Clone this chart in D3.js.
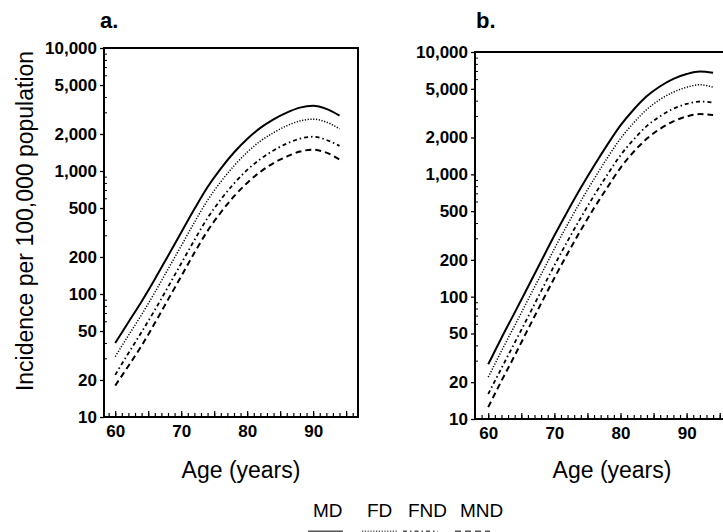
<!DOCTYPE html>
<html>
<head>
<meta charset="utf-8">
<script src="https://cdn.jsdelivr.net/npm/d3@7"></script>
<style>
  body { margin: 0; background: #fff; }
  svg { display: block; font-family: "Liberation Sans", Arial, sans-serif; }
</style>
</head>
<body>
<div id="chart"></div>
<script>
const ages = [60, 62, 64, 66, 68, 70, 72, 74, 76, 78, 80, 82, 84, 86, 88, 90, 92, 94];

// panel a
const aMD = [40, 59, 87, 132, 204, 316, 490, 741, 1047, 1413, 1820, 2240, 2630, 2985, 3275, 3390, 3200, 2820];
const aFD = [31, 46, 68, 103, 159, 246, 382, 578, 817, 1100, 1420, 1750, 2050, 2330, 2550, 2640, 2500, 2200];
const aFND = [22, 33, 49, 74, 114, 177, 274, 415, 586, 790, 1020, 1250, 1470, 1670, 1830, 1900, 1790, 1600];
const aMND = [18, 26, 38, 58, 90, 139, 216, 326, 460, 622, 800, 985, 1160, 1310, 1440, 1490, 1410, 1240];

// panel b
const bMD = [28, 46, 74, 120, 195, 316, 500, 776, 1175, 1740, 2510, 3390, 4365, 5250, 6030, 6600, 6920, 6760];
const bFD = [22, 36, 58, 94, 152, 246, 390, 605, 916, 1360, 1960, 2640, 3400, 4100, 4700, 5150, 5400, 5150];
const bFND = [16, 26, 42, 68, 111, 180, 285, 442, 670, 990, 1430, 1930, 2490, 2990, 3440, 3760, 3940, 3850];
const bMND = [12.5, 20.5, 33, 54, 88, 142, 225, 350, 530, 780, 1130, 1530, 1960, 2360, 2710, 2970, 3110, 3050];

const seriesNames = ["MD", "FD", "FND", "MND"];
const yTicks = [10, 20, 50, 100, 200, 500, 1000, 2000, 5000, 10000];
const xTicks = [60, 70, 80, 90];

// line style per series: solid, dotted, dash-dot, dashed
const styles = {
  MD: { dash: null, w: 2 },
  FD: { dash: "1.2,1.6", w: 1.5 },
  FND: { dash: "4,3,1.5,3", w: 1.8 },
  MND: { dash: "6,4", w: 2 },
};

const W = 723, H = 532;
const svg = d3.select("#chart").append("svg").attr("width", W).attr("height", H);

const panels = [
  { label: "a.", data: [aMD, aFD, aFND, aMND], left: 104, right: 358, top: 48, bottom: 417,
    xDom: [58.3, 96.8], labelX: 100, titleX: 241 },
  { label: "b.", data: [bMD, bFD, bFND, bMND], left: 475, right: 725, top: 52, bottom: 419,
    xDom: [58.0, 95.8], labelX: 476, titleX: 612 },
];

const minorY = [];
[10, 100, 1000].forEach((d) => {
  for (let k = 2; k <= 9; k++) if (k !== 2 && k !== 5) minorY.push(d * k);
});

panels.forEach((p) => {
  const x = d3.scaleLinear().domain(p.xDom).range([p.left, p.right]);
  const y = d3.scaleLog().domain([10, 10000]).range([p.bottom, p.top]);
  const g = svg.append("g");

  // frame
  g.append("rect")
    .attr("x", p.left).attr("y", p.top)
    .attr("width", p.right - p.left).attr("height", p.bottom - p.top)
    .attr("fill", "none").attr("stroke", "#000").attr("stroke-width", 2);

  // y axis major ticks + labels
  const yAxis = g.append("g")
    .attr("transform", `translate(${p.left},0)`)
    .call(d3.axisLeft(y).tickValues(yTicks).tickFormat(d3.format(",")).tickSize(4).tickPadding(3));
  yAxis.select(".domain").remove();
  yAxis.selectAll("text").style("font-size", "17px").style("font-weight", "bold").attr("fill", "#000");
  yAxis.selectAll("line").attr("stroke-width", 1.3);

  // y minor ticks (inward)
  const yMinor = g.append("g")
    .attr("transform", `translate(${p.left},0)`)
    .call(d3.axisLeft(y).tickValues(minorY).tickFormat("").tickSize(-3));
  yMinor.select(".domain").remove();

  // x axis labels
  const xAxis = g.append("g")
    .attr("transform", `translate(0,${p.bottom})`)
    .call(d3.axisBottom(x).tickValues(xTicks).tickSize(0).tickPadding(8));
  xAxis.select(".domain").remove();
  xAxis.selectAll("text").style("font-size", "17px").style("font-weight", "bold").attr("fill", "#000");

  // x ticks every year, inward
  const xMinor = g.append("g")
    .attr("transform", `translate(0,${p.bottom})`)
    .call(d3.axisBottom(x).tickValues(d3.range(59, 97)).tickFormat("").tickSize(-4));
  xMinor.select(".domain").remove();
  xMinor.selectAll("line").attr("stroke-width", 1.2);
  const xMid = g.append("g")
    .attr("transform", `translate(0,${p.bottom})`)
    .call(d3.axisBottom(x).tickValues(d3.range(60, 96, 5)).tickFormat("").tickSize(-6));
  xMid.select(".domain").remove();
  xMid.selectAll("line").attr("stroke-width", 1.2);

  // curves
  const line = d3.line()
    .x((d, i) => x(ages[i]))
    .y((d) => y(d))
    .curve(d3.curveMonotoneX);

  p.data.forEach((vals, i) => {
    const s = styles[seriesNames[i]];
    g.append("path")
      .datum(vals)
      .attr("d", line)
      .attr("fill", "none")
      .attr("stroke", "#000")
      .attr("stroke-width", s.w)
      .attr("stroke-dasharray", s.dash);
  });

  // panel label
  svg.append("text")
    .attr("x", p.labelX).attr("y", 28)
    .style("font-size", "22px").style("font-weight", "bold")
    .text(p.label);

  // x axis title
  svg.append("text")
    .attr("x", p.titleX).attr("y", 478)
    .attr("text-anchor", "middle")
    .style("font-size", "23px")
    .text("Age (years)");
});

// y axis title
svg.append("text")
  .attr("transform", "translate(33,221) rotate(-90)")
  .attr("text-anchor", "middle")
  .style("font-size", "23px")
  .text("Incidence per 100,000 population");

// legend
const legendX = [313, 367, 408, 460];
seriesNames.forEach((name, i) => {
  svg.append("text")
    .attr("x", legendX[i]).attr("y", 517)
    .style("font-size", "19px")
    .text(name);
  const s = styles[name];
  svg.append("line")
    .attr("x1", legendX[i] - 5).attr("x2", legendX[i] + 30)
    .attr("y1", 532).attr("y2", 532)
    .attr("stroke", "#555").attr("stroke-width", 3)
    .attr("stroke-dasharray", s.dash);
});
</script>
</body>
</html>
